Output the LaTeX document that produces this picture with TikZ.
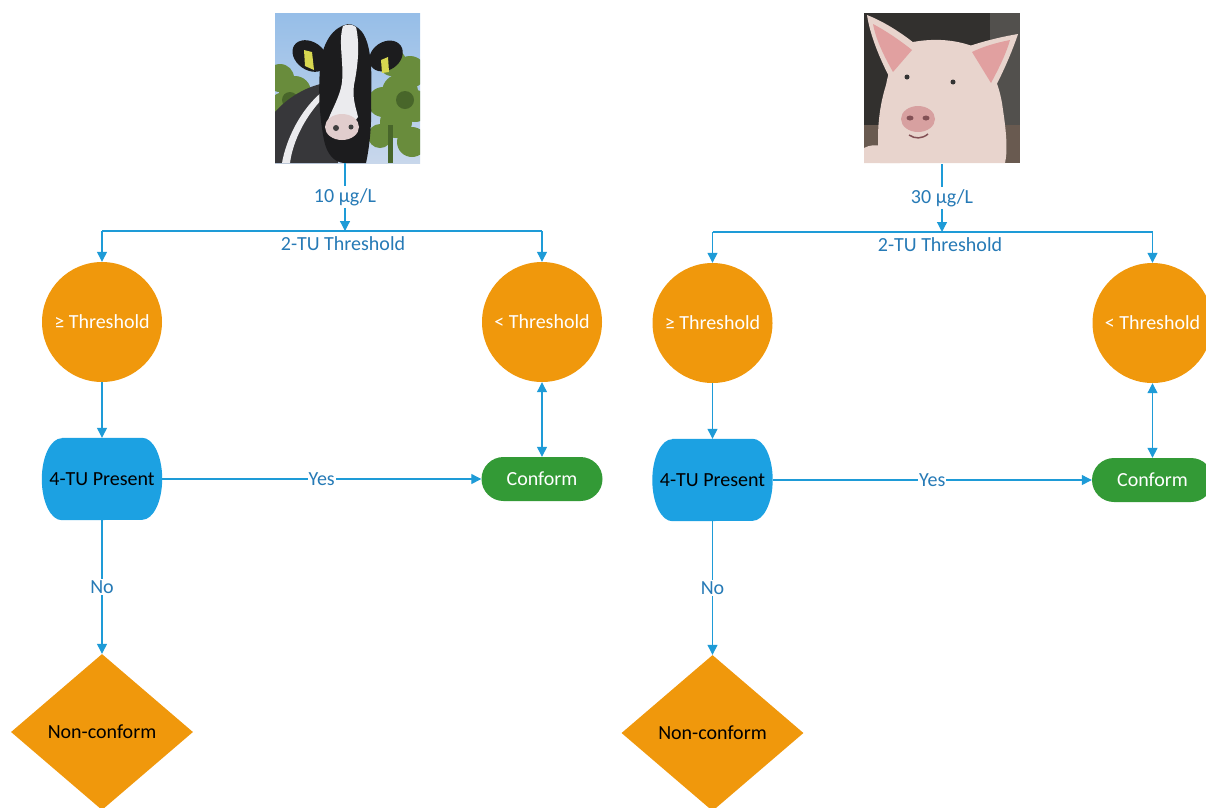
\documentclass[tikz,border=0pt]{standalone}
\usepackage{fontspec}
\setmainfont{Carlito}
\usetikzlibrary{arrows.meta,shapes.geometric,backgrounds}
\definecolor{lineblue}{RGB}{30,155,215}
\definecolor{lblblue}{RGB}{38,122,182}
\definecolor{orng}{RGB}{240,152,12}
\definecolor{bluefill}{RGB}{28,161,226}
\definecolor{grn}{RGB}{51,154,54}
\definecolor{skyA}{RGB}{150,190,232}
\definecolor{skyB}{RGB}{200,215,235}
\definecolor{treeA}{RGB}{105,140,60}
\definecolor{treeB}{RGB}{72,102,42}
\definecolor{cowdark}{RGB}{55,55,58}
\definecolor{cowblack}{RGB}{28,28,30}
\definecolor{cowwhite}{RGB}{235,235,238}
\definecolor{muzzle}{RGB}{225,205,205}
\definecolor{tagyellow}{RGB}{215,215,80}
\definecolor{pigbg}{RGB}{50,48,46}
\definecolor{pigbgb}{RGB}{82,80,77}
\definecolor{floor}{RGB}{105,90,80}
\definecolor{pigskin}{RGB}{232,212,205}
\definecolor{pigear}{RGB}{225,160,160}
\definecolor{snout}{RGB}{215,160,160}
\definecolor{nostril}{RGB}{130,80,85}
\tikzset{
 conn/.style={draw=lineblue, line width=1.2pt},
 arr/.style={conn, -{Triangle[length=10pt,width=10pt]}},
 darr/.style={conn, {Triangle[length=10pt,width=10pt]}-{Triangle[length=10pt,width=10pt]}},
 lbl/.style={text=lblblue, fill=white, inner sep=2pt},
 circ/.style={circle, fill=orng, text=white, minimum size=120pt, inner sep=0pt},
 pres/.style={rectangle, minimum width=120pt, minimum height=82pt, inner sep=0pt, text=black},
 conf/.style={rectangle, rounded corners=22pt, fill=grn, text=white, minimum width=121pt, minimum height=44pt, inner sep=0pt},
 nonc/.style={diamond, fill=orng, text=black, minimum width=182pt, minimum height=156pt, inner sep=0pt},
}
\newcommand{\flowchart}[4]{%
\begin{scope}[shift={#3}]
\coordinate (#1top) at (#4,163);
\node[lbl] (#1conc) at (#4,197) {#2};
\coordinate (#1junc) at (#4,231);
\node[circ] (#1ge) at (102,322) {≥ Threshold};
\node[circ] (#1lt) at (542,322) {< Threshold};
\node[pres] (#1pres) at (102,479) {4-TU Present};
\node[conf] (#1conf) at (542,479) {Conform};
\node[nonc] (#1nonc) at (102,732) {Non-conform};
\draw[conn] (#1top) -- (#1conc);
\draw[arr] (#1conc) -- (#1junc);
\draw[conn] (#1ge.north |- #1junc) -- (#1lt.north |- #1junc);
\draw[arr] (#1ge.north |- #1junc) -- (#1ge.north);
\draw[arr] (#1lt.north |- #1junc) -- (#1lt.north);
\node[lbl, inner sep=1pt] (#1thr) at (#4-2,244) {2-TU Threshold};
\draw[arr] (#1ge) -- (#1pres);
\draw[darr] (#1lt) -- (#1conf);
\draw[arr] (#1pres) -- node[lbl, inner sep=1pt] (#1yes) {Yes} (#1conf);
\draw[arr] (#1pres) -- node[lbl] (#1no) {No} (#1nonc);
\begin{scope}[on background layer]
\fill[bluefill] ([xshift=20pt]#1pres.north west) -- ([xshift=-20pt]#1pres.north east)
  arc[start angle=90, end angle=-90, x radius=20pt, y radius=41pt]
  -- ([xshift=20pt]#1pres.south west)
  arc[start angle=270, end angle=90, x radius=20pt, y radius=41pt] -- cycle;
\end{scope}
\end{scope}}
\begin{document}
\begin{tikzpicture}[x=1pt, y=-1pt, font=\fontsize{20}{24}\selectfont]
\useasboundingbox (0,0) rectangle (1206,807);
\clip (0,0) rectangle (1206,807);
% ---- cow photo ----
\begin{scope}
\clip (275,13) rectangle (420,163);
\shade[top color=skyA, bottom color=skyB] (275,13) rectangle (420,163);
\foreach \p/\r in {(280,78)/14, (295,92)/16, (285,110)/18, (305,112)/14, (282,138)/15}
  \fill[treeA] \p circle[radius=\r pt];
\foreach \p/\r in {(392,62)/14, (410,72)/16, (400,92)/18, (383,102)/15, (415,106)/16, (396,122)/16, (412,142)/15, (380,136)/12}
  \fill[treeA] \p circle[radius=\r pt];
\fill[treeB] (405,100) circle[radius=9pt];
\fill[treeB] (290,100) circle[radius=8pt];
\fill[treeB] (388,125) rectangle (393,163);
\fill[cowdark] (275,112) .. controls (290,95) and (310,85) .. (330,82) -- (338,163) -- (275,163) -- cycle;
\fill[cowwhite] (282,163) .. controls (286,140) and (300,110) .. (322,92) -- (325,96) .. controls (306,115) and (293,140) .. (290,163) -- cycle;
\fill[cowblack] (348,24) .. controls (333,27) and (322,42) .. (320,68) .. controls (318,95) and (320,120) .. (324,140) .. controls (327,155) and (335,163) .. (345,163) -- (366,163) .. controls (370,145) and (372,120) .. (371,100) .. controls (372,75) and (372,45) .. (362,32) .. controls (358,27) and (353,24) .. (348,24) -- cycle;
\fill[cowblack, rotate around={-35:(310,56)}] (310,56) ellipse[x radius=19pt, y radius=14pt];
\fill[cowblack, rotate around={35:(386,56)}] (386,56) ellipse[x radius=18pt, y radius=14pt];
\fill[tagyellow] (304,50) -- (312,52) -- (314,70) -- (305,66) -- cycle;
\fill[tagyellow] (381,60) -- (388,57) -- (389,72) -- (382,73) -- cycle;
\fill[cowwhite] (343,26) .. controls (347,24) and (352,24) .. (356,27) .. controls (360,45) and (358,65) .. (354,85) .. controls (352,98) and (356,108) .. (358,117) -- (344,136) -- (326,126) .. controls (330,112) and (340,98) .. (342,82) .. controls (344,62) and (338,42) .. (343,26) -- cycle;
\fill[muzzle] (342,127) ellipse[x radius=17pt, y radius=13pt];
\fill[black!75] (336,128) circle[radius=3pt];
\fill[black!75] (351,127) circle[radius=2.5pt];
\end{scope}
% ---- pig photo ----
\begin{scope}
\clip (864,13) rectangle (1020,163);
\fill[pigbg] (864,13) rectangle (1020,163);
\fill[pigbgb] (990,13) rectangle (1020,130);
\fill[floor] (864,125) rectangle (1020,163);
\fill[pigskin] (900,45) .. controls (925,38) and (950,38) .. (972,46) .. controls (990,60) and (1000,85) .. (1003,110) .. controls (1006,130) and (1008,150) .. (1005,163) -- (880,163) .. controls (876,140) and (878,110) .. (886,85) .. controls (890,65) and (895,52) .. (900,45) -- cycle;
\fill[pigskin] (867,15) .. controls (885,22) and (905,35) .. (920,48) -- (892,82) .. controls (880,60) and (870,35) .. (867,15) -- cycle;
\fill[pigear] (873,24) .. controls (888,32) and (902,42) .. (912,50) -- (893,72) .. controls (884,56) and (876,40) .. (873,24) -- cycle;
\fill[pigskin] (1018,34) .. controls (1000,37) and (980,42) .. (964,48) -- (992,93) .. controls (1002,75) and (1012,52) .. (1018,34) -- cycle;
\fill[pigear] (1010,40) .. controls (995,43) and (982,47) .. (972,52) -- (991,83) .. controls (999,68) and (1006,54) .. (1010,40) -- cycle;
\fill[black!80] (907,77) circle[radius=2.5pt];
\fill[black!80] (953,82) circle[radius=2.5pt];
\fill[snout] (918,119) ellipse[x radius=17pt, y radius=13pt];
\fill[nostril] (910,118) ellipse[x radius=3.5pt, y radius=2.5pt];
\fill[nostril] (926,118) ellipse[x radius=3.5pt, y radius=2.5pt];
\draw[nostril, line width=1.5pt] (909,135) .. controls (915,139) and (922,139) .. (928,134);
\fill[pigskin] (864,148) .. controls (875,142) and (890,145) .. (900,163) -- (864,163) -- cycle;
\end{scope}
% ---- flowcharts ----
\flowchart{L}{10 µg/L}{(0,0)}{345}
\flowchart{R}{30 µg/L}{(610.5,1)}{331.5}
\end{tikzpicture}
\end{document}
